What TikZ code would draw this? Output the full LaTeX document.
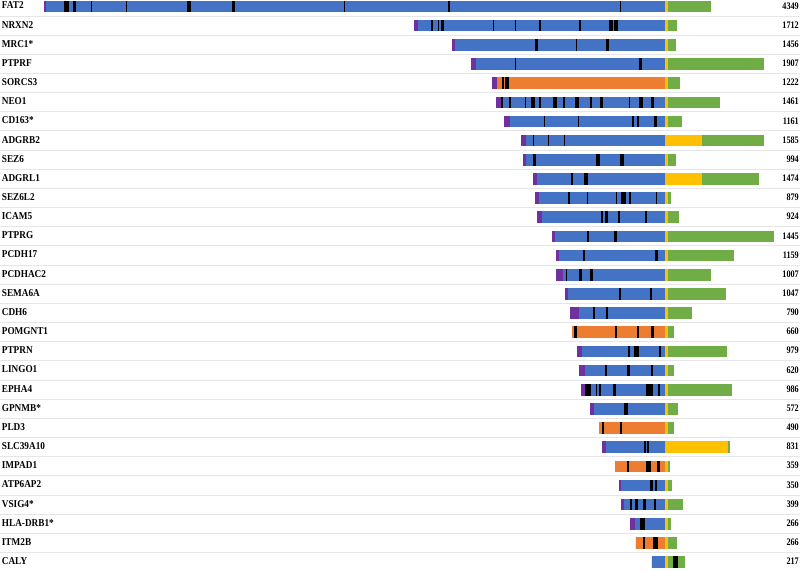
\documentclass[tikz,border=0pt]{standalone}
\usepackage{fontspec}
\setmainfont{Liberation Serif}
\newfontfamily\labfont[FakeStretch=0.88]{Liberation Serif}
\newfontfamily\numfont[FakeStretch=0.82]{Liberation Serif}
\definecolor{ecdblue}{HTML}{4472C4}
\definecolor{ecdorange}{HTML}{ED7D31}
\definecolor{cytogreen}{HTML}{70AD47}
\definecolor{tmyellow}{HTML}{FFC000}
\definecolor{sigpurple}{HTML}{7030A0}
\definecolor{sepgray}{HTML}{E6E6E6}
\tikzset{
  lab/.style={inner sep=0pt, font=\labfont\bfseries\fontsize{10.5}{12}\selectfont},
  num/.style={inner sep=0pt, font=\numfont\bfseries\fontsize{10}{12}\selectfont},
  sepline/.style={draw=sepgray, line width=0.6pt},
}
\begin{document}
\begin{tikzpicture}[x=1pt,y=-1pt]
\useasboundingbox (0,0) rectangle (800,570);
\foreach \i/\nm/\len/\s/\e/\col/\tm/\g/\mks in {
0/FAT2/4349/44/46/ecdblue/668/711/{64.3/69,73/75.7,91/92.3,126/127.3,187.3/191,232.3/234.7,344/345.3,448.3/449.7,620/621.3},
1/NRXN2/1712/414/417.7/ecdblue/668/676.7/{431/432.7,437.7/439.3,440.7/444.3,492.7/494,514.7/516,539.3/541,579/580.7,609.3/613.3,614/618.3},
2/MRC1*/1456/451.7/455/ecdblue/668/675.7/{535.3/537.7,575.7/577,605.7/609},
3/PTPRF/1907/471/475.7/ecdblue/668/763.7/{514.7/516,639.3/642},
4/SORCS3/1222/492.3/497/ecdorange/668/680/{501.7/504.3,505.3/509.3},
5/NEO1/1461/495.7/501/ecdblue/668/720/{501/502.7,508.7/510.7,524.7/526,531/535,539.3/540.7,553.3/556.7,563.3/565,575/579,590/591.7,600/602.7,629/630.3,639.3/642.7,651/653.7},
6/CD163*/1161/504/510/ecdblue/668/681.7/{543.7/545,577.7/579,632.3/633.7,637/638.7,654.3/656.7},
7/ADGRB2/1585/521.3/526/ecdblue/701.7/764.3/{533/534,547.7/549.3,563.7/565.3},
8/SEZ6/994/523/525.7/ecdblue/668/675.7/{532.7/535.7,596/600,620/623.7},
9/ADGRL1/1474/533.3/537/ecdblue/701.7/759.3/{570.7/573.3,583.7/587.7},
10/SEZ6L2/879/535.3/539.3/ecdblue/668/670.7/{568.3/570.3,586.7/588,615.7/617.3,621.3/626.3,629/630.7,655.7/657.3},
11/ICAM5/924/537/542/ecdblue/668/678.7/{601/602.7,604.7/608,617.7/619.7,645/646.7},
12/PTPRG/1445/552/555.3/ecdblue/668/774/{587.3/589,614.3/616.7},
13/PCDH17/1159/556.3/559.3/ecdblue/668/734.3/{582.7/584.7,655.3/658.3},
14/PCDHAC2/1007/556.3/563.3/ecdblue/668/711/{565.7/567,578.7/581.7,589.7/592.7},
15/SEMA6A/1047/565.3/567.7/ecdblue/668/726/{618.7/620.7,650/651.7},
16/CDH6/790/570.3/579/ecdblue/668/692/{593/595,605.7/607.7},
17/POMGNT1/660/572.3/572.3/ecdorange/668/674/{573.7/576.7,614.7/616.7,636.7/638.7,651.3/654},
18/PTPRN/979/576.7/582/ecdblue/668/727/{628.3/630.3,634/638.7,659/661},
19/LINGO1/620/579/585.3/ecdblue/668/674/{604.7/607,626.7/629.7,651.3/653.3},
20/EPHA4/986/581/585/ecdblue/668/732.3/{585/591,595.7/597.3,599.3/601.3,613/616,645.7/649.7,650.3/653.3,657.7/660},
21/GPNMB*/572/590.3/594/ecdblue/668/678/{624/628.3},
22/PLD3/490/599/599/ecdorange/668/674/{602.3/604,620/622},
23/SLC39A10/831/602/606/ecdblue/728.3/730/{643.7/646.3,647/649.3},
24/IMPAD1/359/615/615/ecdorange/668/670/{626.7/628.7,646/651,657.3/660},
25/ATP6AP2/350/618.7/621/ecdblue/668/672.3/{650/652.7,654.7/656.7},
26/VSIG4*/399/621.3/624.3/ecdblue/668/683/{630/632,635.3/638,643/646.3,654.3/656},
27/HLA-DRB1*/266/630/635.3/ecdblue/668/670.7/{640.3/644.7},
28/ITM2B/266/635.7/635.7/ecdorange/668/676.7/{642.7/645,653.3/657.7},
29/CALY/217/651.7/651.7/ecdblue/668/685/{673.3/677.7}%
}{
  \pgfmathsetmacro\yc{6.5+19.16*\i}
  \ifnum\i<29 \draw[sepline] (0,\yc+9.3) -- (800,\yc+9.3); \fi
  \fill[sigpurple] (\s,\yc-5.8) rectangle (\e,\yc+5.8);
  \fill[\col] (\e,\yc-5.8) rectangle (665,\yc+5.8);
  \fill[tmyellow] (665,\yc-5.8) rectangle (\tm,\yc+5.8);
  \fill[cytogreen] (\tm,\yc-5.8) rectangle (\g,\yc+5.8);
  \foreach \a/\b in \mks {\fill[black] (\a,\yc-5.8) rectangle (\b,\yc+5.8);}
  \node[lab, anchor=base west] (lab\i) at (1.7,\yc+2.4) {\nm};
  \node[num, anchor=base east] (num\i) at (799,\yc+2.6) {\len};
}
\end{tikzpicture}
\end{document}
